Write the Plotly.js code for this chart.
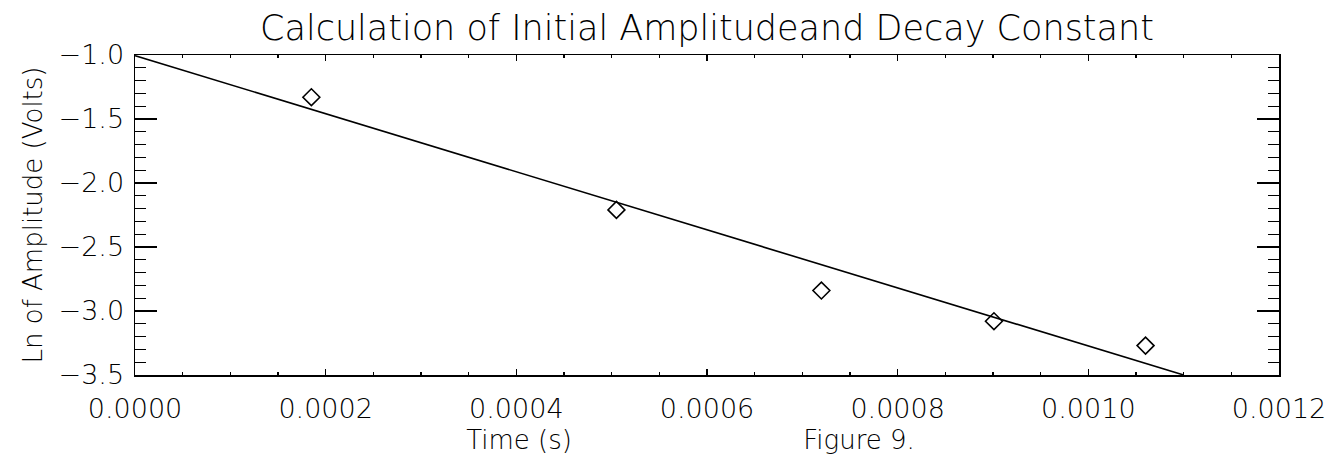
<!DOCTYPE html>
<html>
<head>
<meta charset="utf-8">
<script src="https://cdn.plot.ly/plotly-3.0.1.min.js"></script>
<style>html,body{margin:0;padding:0;background:#fff;}#chart{width:1342px;height:464px;}</style>
</head>
<body>
<div id="chart"></div>
<script>
// Measured points: time (s) vs ln of amplitude (volts)
var timeValues = [0.000185, 0.000505, 0.000720, 0.000901, 0.001060];
var lnAmplitude = [-1.33, -2.21, -2.84, -3.08, -3.27];
// Fitted line end points
var fitTime = [0.0, 0.0011];
var fitLnAmplitude = [-1.005, -3.5];
var titleText = "Calculation of Initial Amplitudeand Decay Constant";
var xTitleText = "Time (s)" + "\u00A0".repeat(28) + "Figure 9." + "\u00A0".repeat(4) + "\u200B";
var yTitleText = "Ln of Amplitude (Volts)";

var fontFamily = "DejaVu Sans, Liberation Sans, sans-serif";

var traces = [
  {x: fitTime, y: fitLnAmplitude, mode: 'lines', type: 'scatter',
   line: {color: '#000', width: 1.6}, hoverinfo: 'skip', showlegend: false, cliponaxis: true},
  {x: timeValues, y: lnAmplitude, mode: 'markers', type: 'scatter',
   marker: {symbol: 'diamond-open', size: 13, color: '#000', line: {width: 1.6, color: '#000'}},
   showlegend: false}
];

var layout = {
  width: 1342, height: 464,
  paper_bgcolor: '#fff', plot_bgcolor: '#fff',
  margin: {l: 135, r: 63, t: 55, b: 89, pad: 0},
  font: {family: fontFamily, color: '#000', size: 26, weight: 200},
  title: {text: titleText, x: 0.5, xref: 'paper', xanchor: 'center', y: 0.94, yref: 'container', yanchor: 'middle',
          font: {family: fontFamily, size: 35, color: '#000', weight: 200}},
  xaxis: {
    range: [0, 0.0012], tickmode: 'linear', tick0: 0, dtick: 0.0002, tickformat: '.4f',
    showgrid: false, zeroline: false,
    showline: true, linecolor: '#000', linewidth: 1.5, mirror: 'ticks',
    ticks: 'inside', ticklen: 6, tickwidth: 1.3, tickcolor: '#000',
    minor: {dtick: 0.00005, ticks: 'inside', ticklen: 3, tickwidth: 1.2, tickcolor: '#000', showgrid: false},
    tickfont: {size: 27, family: fontFamily, weight: 200, color: '#000'},
    ticklabelstandoff: 9,
    title: {text: xTitleText, standoff: 8, font: {size: 26, family: fontFamily, weight: 200, color: '#000'}},
    automargin: false
  },
  yaxis: {
    range: [-3.5, -1.0], tickmode: 'linear', tick0: -1.0, dtick: 0.5, tickformat: '.1f',
    showgrid: false, zeroline: false,
    showline: true, linecolor: '#000', linewidth: 1.5, mirror: 'ticks',
    ticks: 'inside', ticklen: 22, tickwidth: 1.3, tickcolor: '#000',
    minor: {dtick: 0.1, ticks: 'inside', ticklen: 11, tickwidth: 1.2, tickcolor: '#000', showgrid: false},
    tickfont: {size: 27, family: fontFamily, weight: 200, color: '#000'},
    ticklabelstandoff: 4,
    title: {text: yTitleText, standoff: 8, font: {size: 26, family: fontFamily, weight: 200, color: '#000'}},
    automargin: false
  }
};

Plotly.newPlot('chart', traces, layout, {displayModeBar: false, staticPlot: true});
</script>
</body>
</html>
